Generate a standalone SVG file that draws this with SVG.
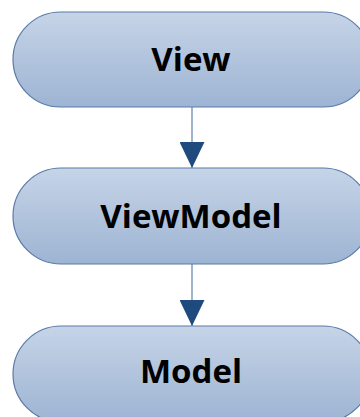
<svg xmlns="http://www.w3.org/2000/svg" width="360" height="417" viewBox="0 0 360 417">
<defs>
<linearGradient id="g" x1="0" y1="0" x2="0" y2="1">
<stop offset="0" stop-color="#c6d4e7"/>
<stop offset="1" stop-color="#9db4d3"/>
</linearGradient>
<marker id="ah" markerWidth="26" markerHeight="25" refX="26" refY="12.5" orient="auto" markerUnits="userSpaceOnUse" viewBox="0 0 26 25">
<path d="M0,0 L26,12.5 L0,25 Z" fill="#1f4a7e"/>
</marker>
<style>
.n{fill:url(#g);stroke:#5a7aa8;stroke-width:1.2}
.t{font-family:"Open Sans","Liberation Sans",sans-serif;font-weight:bold;font-size:33px;fill:#000;text-anchor:middle}
.c{stroke:#6c8ab3;stroke-width:1.3;fill:none}
</style>
</defs>
<g id="connectors">
<line class="c" x1="192" y1="107" x2="192" y2="168" marker-end="url(#ah)"/>
<line class="c" x1="192" y1="264" x2="192" y2="326" marker-end="url(#ah)"/>
</g>
<g id="view">
<rect class="n" x="13" y="12" width="358" height="95" rx="47.5" ry="47.5"/>
<text class="t" x="191" y="71">View</text>
</g>
<g id="viewmodel">
<rect class="n" x="13" y="168" width="358" height="96" rx="48" ry="48"/>
<text class="t" x="191" y="228">ViewModel</text>
</g>
<g id="model">
<rect class="n" x="13" y="326" width="358" height="96" rx="48" ry="48"/>
<text class="t" x="191" y="383">Model</text>
</g>
</svg>
